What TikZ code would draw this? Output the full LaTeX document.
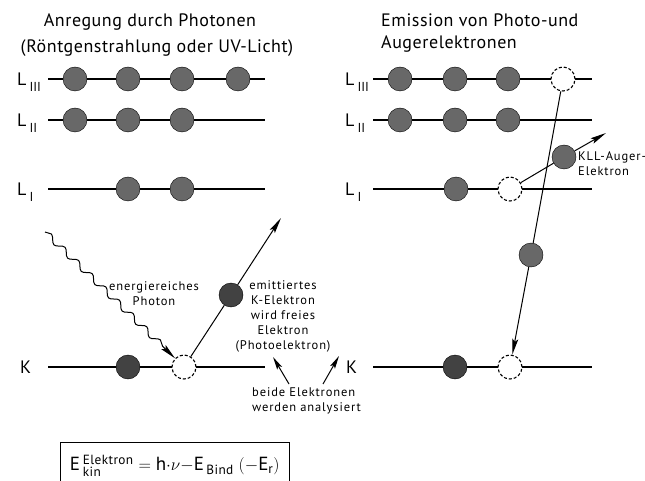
\documentclass[tikz,border=0pt]{standalone}
\usepackage{fontspec}
\usepackage{amsmath}
\setmainfont{PT Sans}[LetterSpace=3]
\newfontfamily\notefont{PT Sans}[LetterSpace=7]
\usetikzlibrary{arrows.meta,decorations.pathmorphing}
\definecolor{elgray}{RGB}{104,104,104}
\definecolor{eldark}{RGB}{66,66,66}
\newcommand{\shellsub}[1]{\raisebox{-0.6ex}{\fontsize{13}{13}\selectfont$\mathrm{#1}$}}
\tikzset{
  elec/.style={circle,draw,fill=elgray,minimum size=24pt,inner sep=0pt},
  elecdark/.style={elec,fill=eldark},
  hole/.style={circle,draw,densely dashed,line width=1.1pt,fill=white,minimum size=24pt,inner sep=0pt},
  level/.style={line width=1.1pt},
  shell/.style={font=\fontsize{18}{18}\selectfont,anchor=base west,inner sep=0pt},
  title/.style={font=\fontsize{18}{18}\selectfont,anchor=base,inner sep=0pt},
  note/.style={font=\notefont\fontsize{12.5}{15}\selectfont,inner sep=0pt},
  eltip/.style={-{Stealth[length=16pt,width=6pt,inset=3pt]},line width=1pt},
}
\begin{document}
\begin{tikzpicture}[x=1pt,y=-1pt]
  \useasboundingbox (0,0) rectangle (645,481);
  \node[title] (tl1) at (150,27) {Anregung durch Photonen};
  \node[title] (tl2) at (157,53) {(Röntgenstrahlung oder UV-Licht)};
  \node[title,anchor=base west] (tr1) at (381,27) {Emission von Photo-und};
  \node[title,anchor=base west] (tr2) at (381,49) {Augerelektronen};
  \foreach \n/\y/\s in {3/79/III,2/120/II,1/189/I} {
    \node[shell] (sl\n) at (17,\y+7) {L\,\shellsub{\s}};
    \node[shell] (sr\n) at (345,\y+7) {L\,\shellsub{\s}};
  }
  \node[shell] (slk) at (20,373) {K};
  \node[shell] (srk) at (346,373) {K};
  \foreach \n/\y in {3/79,2/120,1/189,k/367} {
    \coordinate (la\n) at (48,\y);
    \coordinate (lb\n) at (265,\y);
    \coordinate (ra\n) at (373,\y);
    \coordinate (rb\n) at (592,\y);
    \draw[level] (la\n) -- (lb\n);
    \draw[level] (ra\n) -- (rb\n);
  }
  \foreach \x in {75,128,182,238} \node[elec] (l3e\x) at (\x,79) {};
  \foreach \x in {75,128,182} \node[elec] (l2e\x) at (\x,120) {};
  \foreach \x in {128,182} \node[elec] (l1e\x) at (\x,189) {};
  \node[elecdark] (lke) at (128,367) {};
  \node[hole] (lkh) at (184,367) {};
  \foreach \x in {400,455,508} {
    \node[elec] (r3e\x) at (\x,79) {};
    \node[elec] (r2e\x) at (\x,120) {};
  }
  \node[hole] (r3h) at (563,79) {};
  \node[elec] (r1e) at (456,189) {};
  \node[hole] (r1h) at (510,189) {};
  \node[elecdark] (rke) at (455,367) {};
  \node[hole] (rkh) at (510,367) {};

  \coordinate (ph0) at (45,232);
  \draw[eltip,decorate,decoration={snake,amplitude=3pt,segment length=19pt,post length=16pt}] (ph0) -- (lkh);
  \node[elecdark] (pel) at (231,295) {};
  \coordinate (pend) at (281,218);
  \draw[line width=1pt] (lkh) -- (pel);
  \draw[eltip] (pel) -- (pend);

  \node[elec] (drop) at (531,255) {};
  \draw[line width=1pt] (r3h) -- (drop);
  \draw[eltip] (drop) -- (rkh);
  \node[elec] (aug) at (564,157) {};
  \coordinate (aend) at (606,133);
  \draw[line width=1pt] (r1h) -- (aug);
  \draw[eltip] (aug) -- (aend);

  \node[note,align=center] (phot) at (154,294) {energiereiches\\Photon};
  \node[note,align=center] (emit) at (283,316) {emittiertes\\K-Elektron\\wird freies\\Elektron\\(Photoelektron)};
  \node[note,align=left,anchor=west] (ana) at (252,401) {beide Elektronen\\werden analysiert};
  \node[note,align=left,anchor=west] (kll) at (578,164) {KLL-Auger-\\Elektron};
  \coordinate (an1) at (289,384);
  \coordinate (pa1) at (273,357);
  \coordinate (an2) at (323,384);
  \coordinate (pa2) at (339,356);
  \draw[-{Stealth[length=13pt,width=5.5pt,inset=2.5pt]},line width=1pt] (an1) -- (pa1);
  \draw[-{Stealth[length=13pt,width=5.5pt,inset=2.5pt]},line width=1pt] (an2) -- (pa2);

  \node[anchor=west,minimum width=229pt,font=\fontsize{19}{19}\selectfont] (form) at (60,466)
    {$\text{E}\,{}^{\text{Elektron}}_{\text{kin}} = \text{h}{\cdot}\nu{-}\text{E}_{\,\text{Bind}}\;(-\text{E}_{\text{r}})$};
  \coordinate (fsw) at (60,486);
  \coordinate (fne) at (289,442);
  \coordinate (fse) at (289,486);
  \draw[line width=1pt] (fsw) |- (fne) -- (fse);
\end{tikzpicture}
\end{document}
